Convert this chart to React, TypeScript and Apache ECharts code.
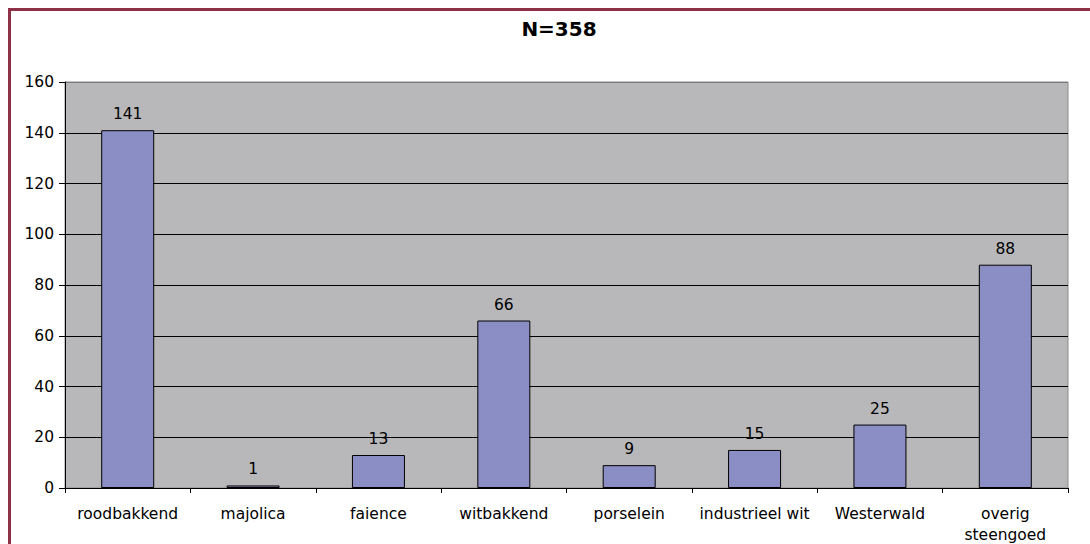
import React, { useEffect, useRef } from "react";
import * as echarts from "echarts";

const categories = [
  "roodbakkend",
  "majolica",
  "faience",
  "witbakkend",
  "porselein",
  "industrieel wit",
  "Westerwald",
  "overig\nsteengoed",
];
const values = [141, 1, 13, 66, 9, 15, 25, 88];
const titleText = "N=358";
const yMin = 0;
const yMax = 160;
const yInterval = 20;

const FONT = "DejaVu Sans";

export default function App() {
  const ref = useRef<HTMLDivElement>(null);
  useEffect(() => {
    if (!ref.current) return;
    const chart = echarts.init(ref.current, undefined, { renderer: "svg" });
    const splitColors: string[] = [];
    for (let v = yMin; v <= yMax; v += yInterval) {
      splitColors.push(v === yMax ? "#7a7a7a" : "#000000");
    }
    chart.setOption({
      animation: false,
      backgroundColor: "#ffffff",
      title: {
        text: titleText,
        left: 554,
        top: 14,
        textAlign: "center",
        textStyle: {
          fontFamily: FONT,
          fontSize: 20,
          fontWeight: "bold",
          color: "#000",
        },
      },
      graphic: [
        {
          type: "rect",
          shape: { x: 9.5, y: 9.5, width: 1200, height: 700 },
          style: { fill: "none", stroke: "#8E3046", lineWidth: 3 },
          silent: true,
        },
      ],
      grid: {
        left: 65,
        right: 22,
        top: 82,
        bottom: 56,
        show: true,
        containLabel: false,
        outerBoundsMode: "none",
        backgroundColor: "#B8B8BA",
        borderColor: "#8a8a8a",
        borderWidth: 1,
      },
      xAxis: {
        type: "category",
        data: categories,
        axisLine: { show: true, lineStyle: { color: "#000", width: 1 } },
        axisTick: { show: true, length: 5, alignWithLabel: false, lineStyle: { color: "#000" } },
        axisLabel: {
          color: "#000",
          fontFamily: FONT,
          fontSize: 15.5,
          margin: 15,
          lineHeight: 21,
          interval: 0,
        },
      },
      yAxis: {
        type: "value",
        min: yMin,
        max: yMax,
        interval: yInterval,
        axisLine: { show: true, lineStyle: { color: "#000", width: 1 } },
        axisTick: { show: true, length: 6, lineStyle: { color: "#000" } },
        axisLabel: {
          color: "#000",
          fontFamily: FONT,
          fontSize: 15.5,
          margin: 11,
        },
        splitLine: { show: true, lineStyle: { color: splitColors, width: 1 } },
      },
      series: [
        {
          type: "bar",
          data: values,
          barWidth: 53,
          itemStyle: { color: "#8B8DC5", borderColor: "#000", borderWidth: 1 },
          label: {
            show: true,
            position: "top",
            distance: 8,
            color: "#000",
            fontFamily: FONT,
            fontSize: 15.5,
          },
        },
      ],
    });
    return () => chart.dispose();
  }, []);
  return (
    <div
      ref={ref}
      style={{ position: "absolute", left: 0, top: 0, width: 1090, height: 544 }}
    />
  );
}
